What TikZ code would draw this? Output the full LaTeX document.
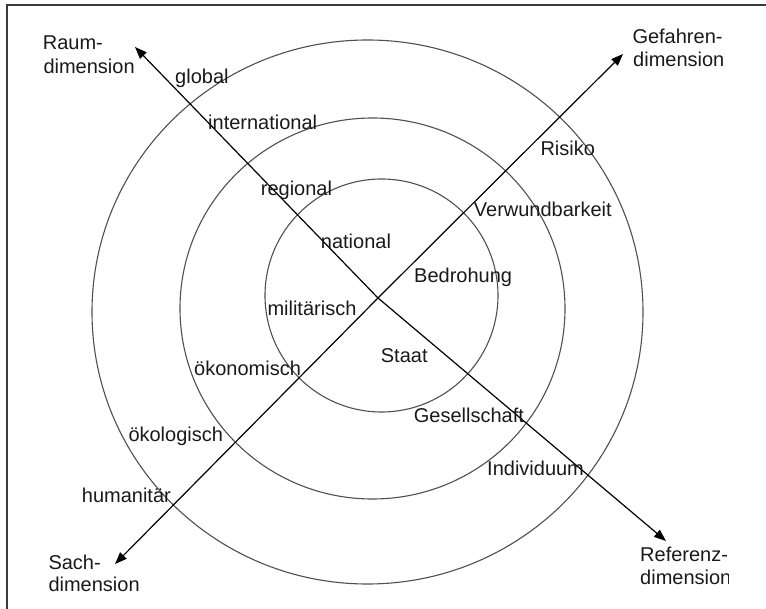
\documentclass[tikz,border=0pt]{standalone}
\usepackage{fontspec}
\setmainfont{Liberation Sans}
\usetikzlibrary{arrows.meta}
\definecolor{txtc}{HTML}{1A1A1A}
\definecolor{ringc}{HTML}{505050}
\definecolor{framec}{HTML}{3A3A3A}
\begin{document}
\begin{tikzpicture}[x=1pt,y=-1pt,
  lbl/.style={anchor=base west,inner sep=0pt,text=txtc,font=\fontsize{20}{23}\selectfont},
  ringline/.style={draw=ringc,line width=1.1pt},
  axisline/.style={draw=black,line width=1.2pt,-{Triangle[length=12pt,width=9pt]}},
  framel/.style={draw=framec,line width=2pt}]
\useasboundingbox (0,0) rectangle (766,609);
\fill[white] (0,0) rectangle (766,609);
\draw[framel] (6.5,609) -- (6.5,5.5) -- (766,5.5);
% rings
\draw[ringline] (381.5,295.5) ellipse [x radius=116.5pt, y radius=116.5pt];
\draw[ringline] (372.5,308.5) ellipse [x radius=192.5pt, y radius=190.5pt];
\draw[ringline] (367.5,312) ellipse [x radius=275.5pt, y radius=272pt];
% axes
\coordinate (C) at (378,298);
\coordinate (raumtip) at (135,47);
\coordinate (gefahrtip) at (623,54);
\coordinate (sachtip) at (115,564);
\coordinate (reftip) at (666,541);
\draw[axisline] (C) -- (raumtip);
\draw[axisline] (C) -- (gefahrtip);
\draw[axisline] (C) -- (sachtip);
\draw[axisline] (C) -- (reftip);
% axis titles
\node[lbl] (raum1) at (42.7,50) {Raum-};
\node[lbl] (raum2) at (43.3,73.3) {dimension};
\node[lbl] (gef1) at (632.3,43.3) {Gefahren-};
\node[lbl] (gef2) at (633,66.7) {dimension};
\node[lbl] (sach1) at (48.3,569) {Sach-};
\node[lbl] (sach2) at (48.3,591.3) {dimension};
\node[lbl] (ref1) at (640,561.7) {Referenz-};
\begin{scope}
\clip (600,565) rectangle (728,609);
\node[lbl] (ref2) at (640,584) {dimension};
\end{scope}
% Raum
\node[lbl] (global) at (175,84) {global};
\node[lbl] (intl) at (208,130) {international};
\node[lbl] (regional) at (260.7,196) {regional};
\node[lbl] (national) at (320.7,249) {national};
% Gefahr
\node[lbl] (risiko) at (540.3,156) {Risiko};
\node[lbl] (verw) at (473.7,216.7) {Verwundbarkeit};
\node[lbl] (bedr) at (414,282.3) {Bedrohung};
% Sach
\node[lbl] (mil) at (267.3,315.7) {militärisch};
\node[lbl] (oekon) at (194,375.7) {ökonomisch};
\node[lbl] (oekol) at (128.3,441.3) {ökologisch};
\node[lbl] (human) at (81.7,502.3) {humanitär};
% Referenz
\node[lbl] (staat) at (380.7,362.3) {Staat};
\node[lbl] (ges) at (413.7,422.3) {Gesellschaft};
\node[lbl] (indiv) at (487,475.7) {Individuum};
\end{tikzpicture}
\end{document}
